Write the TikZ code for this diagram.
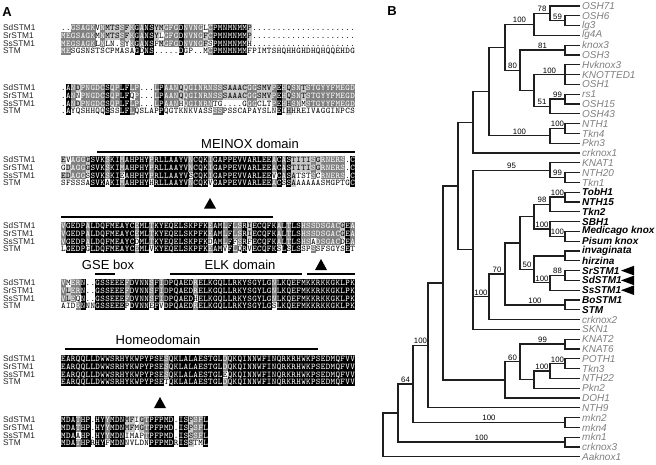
\documentclass[tikz,border=0pt]{standalone}
\usepackage{fontspec}
\setmainfont{Liberation Sans}
\usetikzlibrary{calc}
\definecolor{shadeD}{gray}{0.5}
\definecolor{shadeL}{gray}{0.78}

\ExplSyntaxOn
\tl_new:N \l_al_a_tl
\tl_new:N \l_al_b_tl
\tl_new:N \l_al_c_tl
\tl_new:N \l_al_d_tl
\tl_new:N \l_al_bg_tl
\tl_new:N \l_al_fg_tl
\tl_const:Nn \c_al_dot_tl { . }
\int_new:N \l_al_n_int
\cs_new_protected:Npn \al_draw:nnnnnnn #1#2#3#4#5#6#7
  {
    \path[fill=#1]({61+4.9*(#6-1)},{#7-3.85})rectangle++(5.1,7.9);
    \node[seqc,text=#2](a#4r#5c#6)at({61+4.9*(#6-0.5)},{#7+2.6}){#3};
  }
\cs_generate_variant:Nn \al_draw:nnnnnnn { VVV }
\cs_new_protected:Npn \al_cell:Nnnnn #1#2#3#4#5
  {
    \int_zero:N \l_al_n_int
    \tl_if_eq:NNT #1 \l_al_a_tl { \int_incr:N \l_al_n_int }
    \tl_if_eq:NNT #1 \l_al_b_tl { \int_incr:N \l_al_n_int }
    \tl_if_eq:NNT #1 \l_al_c_tl { \int_incr:N \l_al_n_int }
    \tl_if_eq:NNT #1 \l_al_d_tl { \int_incr:N \l_al_n_int }
    \tl_if_eq:NNT #1 \c_al_dot_tl { \int_zero:N \l_al_n_int }
    \int_case:nnF { \l_al_n_int }
      {
        { 4 } { \tl_set:Nn \l_al_bg_tl { black } \tl_set:Nn \l_al_fg_tl { white } }
        { 3 } { \tl_set:Nn \l_al_bg_tl { shadeD } \tl_set:Nn \l_al_fg_tl { white } }
        { 2 } { \tl_set:Nn \l_al_bg_tl { shadeL } \tl_set:Nn \l_al_fg_tl { black } }
      }
      { \tl_set:Nn \l_al_bg_tl { none } \tl_set:Nn \l_al_fg_tl { black } }
    \al_draw:VVVnnnn \l_al_bg_tl \l_al_fg_tl #1 {#2} {#3} {#4} {#5}
  }
\cs_new_protected:Npn \al_block:nnnnnn #1#2#3#4#5#6
  {
    \int_step_inline:nn { \tl_count:n {#3} }
      {
        \tl_set:Nx \l_al_a_tl { \tl_item:nn {#3} {##1} }
        \tl_set:Nx \l_al_b_tl { \tl_item:nn {#4} {##1} }
        \tl_set:Nx \l_al_c_tl { \tl_item:nn {#5} {##1} }
        \tl_set:Nx \l_al_d_tl { \tl_item:nn {#6} {##1} }
        \al_cell:Nnnnn \l_al_a_tl {#1} {1} {##1} {#2}
        \al_cell:Nnnnn \l_al_b_tl {#1} {2} {##1} {#2+7.7}
        \al_cell:Nnnnn \l_al_c_tl {#1} {3} {##1} {#2+15.4}
        \al_cell:Nnnnn \l_al_d_tl {#1} {4} {##1} {#2+23.1}
      }
  }
\NewDocumentCommand \alblock { mmmmmm } { \al_block:nnnnnn {#1}{#2}{#3}{#4}{#5}{#6} }
\ExplSyntaxOff

\newcommand\tn[4]{\coordinate (tmp) at ($(#3)!.5!(#4)$); \coordinate (#1) at (tmp -| X#2);}
\newcommand\tb[3]{\draw[br] (#2) -| (#1) |- (#3);}
\newcommand\bsl[4]{\path (#1) ++({(#2-#3)/2},-1.3) node[bs] (#1b) {#4};}

\begin{document}
\begin{tikzpicture}[x=1pt,y=-1pt,
  seqc/.style={font=\ttfamily\fontsize{8.7}{8.7}\selectfont,inner sep=0,anchor=base},
  lab/.style={anchor=west,font=\fontsize{8.3}{9}\selectfont,text=black!85,inner sep=0},
  leafg/.style={anchor=west,font=\fontsize{10}{11}\selectfont\itshape,text=black!50,inner sep=0},
  leafb/.style={anchor=west,font=\fontsize{10}{11}\selectfont\bfseries\itshape,text=black,inner sep=0},
  bs/.style={font=\fontsize{7.8}{8}\selectfont,inner sep=0,anchor=south},
  br/.style={line width=1.25pt,draw=black!88},
  dom/.style={font=\fontsize{13}{14}\selectfont,inner sep=0},
  dbar/.style={line width=2.6pt},
  panel/.style={font=\fontsize{13}{14}\selectfont\bfseries,inner sep=0}]
\useasboundingbox (0,0) rectangle (656,464);
\fill[white] (0,0) rectangle (656,464);

% ---------- panel A ----------
\node[panel] (pA) at (7,12) {A};
\foreach \b/\y in {1/28,2/88,3/160,4/226,5/283,6/359,7/420}{
  \foreach \n/\r in {SdSTM1/0,SrSTM1/1,SsSTM1/2,STM/3}{
    \node[lab] (lb\b\n) at (3,{\y+7.7*\r}) {\n};}}

\alblock{1}{28}
{..GSAGKVNMTSSFKGANSYMGFGDNVNGLCPMNMNMMP.....................}
{MEGSAGKMNMTSSFKGANSYLGFGDNVNGFCPMNMNMMP.....................}
{MEGSAGKLNLN.SYKGANSFMGFGDNVNGFSPMNMNMMH.....................}
{MESGSNSTSCPMASAGDNS.....DGP..MCPMNMNMMFPIMTSHQHHGHDHQHQQEHDG}
\alblock{2}{88}
{.ANDPNGDCSQPLFLP...LPAANQQGINRNSSSAAACGGSMVPEHQSNTSTGYYFMEGD}
{.ANNPNGDCSQPLFQP...LPAANQQGINRNSSSAAACGGSMVPEHQSNTSTGYYFMEGD}
{.ANDPNGDCSQPLFLP...LPAANHQGINRNTG....GGGCLTPEHHSNMSTGYYFMEGD}
{.AYQSHHQQSSSLFLQSLAPPQGTKNKVASSSSPSSCAPAYSLNEIHHREIVAGGINPCS}
\alblock{3}{160}
{EVAGGGSVKSKIMAHPHYPRLLAAYVNCQKIGAPPEVVARLEEACASTITISGRNERS.C}
{GDAGGGSVKSKIMAHPHYPRLLAAYVNCQKIGAPPEVVARLEEACASTITISGRNERS.C}
{EDAGGSSVKSKIEAHPHYPRLLAAYVSCQKIGAPPEVVARLEEVCASATSTSCRNERS.C}
{SFSSSASVKAKIMAHPHYHRLLAAYVNCQKVGAPPEVVARLEEACSSAAAAAASMGPTGC}
\alblock{4}{226}
{VGEDPALDQFMEAYCEMLTKYEQELSKPFKEAMLFLSRIECQFKALTLSHSSDSGACGEA}
{VGEDPALDQFMEAYCEMLTKYEQELSKPFKEAMLFLSRIECQFKALTLSHSSDSGACGEA}
{VGEDPALDQFMEAYCDMLTKYEQELSKPFKDAMLFFSRFECQFKALTLSHSADSGACDEA}
{LGEDPGLDQFMEAYCEMLVKYEQELSKPFKEAMVFLQRVECQFKSLSLSSPSSFSGYSET}
\alblock{5}{283}
{VMERN..GSSEEEFDVNNSFIDPQAEDRELKGQLLRKYSGYLGNLKQEFMKKRKKGKLPK}
{VLERN..GSSEEEFDVNNSFIDPQAEDRELKGQLLRKYSGYLGNLKQEFMKKRKKGKLPK}
{VLEQN..GSSEEEFDVNNSFIDPQAEDHELKGQLLRKYSGYLGNLKQEFMKKRKKGKLPK}
{AIDRNNNGSSEEEPDVNNEFVDPQAEDRELKGQLLRKYSGYLGSLKQEFMKKRKKGKLPK}
\alblock{6}{359}
{EARQQLLDWWSRHYKWPYPSESQKLALAESTGLDQKQINNWFINQRKRHWKPSEDMQFVV}
{EARQQLLDWWSRHYKWPYPSESQKLALAESTGLDQKQINNWFINQRKRHWKPSEDMQFVV}
{EARQQLLDWWSRHYKWPYPSESQKLALAESTGLEQKQINNWFINQRKRHWKPSEDMQFVV}
{EARQQLLDWWSRHYKWPYPSETQKLALAESTGLDQKQINNWFINQRKRHWKPSEDMQFVV}
\alblock{7}{420}
{MDATHP.HYYMDNMFIGTPFPMD.ISPSFL}
{MDATHP.HYYMDNMFMGTPFPMD.ISPSFL}
{MDAAHP.HYYMDNIMAPTPFPMD.ISSSFL}
{MDATHPRHYFMDNNVLDNPFPMDRISSTML}

% domains
\node[dom] (meinox) at (250,144) {MEINOX domain};
\draw[dbar] (97,152) -- (355,152);
\draw[dbar] (61,217) -- (273,217);
\fill (210,198) -- (216,208.5) -- (204,208.5) -- cycle;
\node[dom] (gse) at (108,265) {GSE box};
\node[dom] (elk) at (240,265) {ELK domain};
\draw[dbar] (95,274) -- (115,274);
\draw[dbar] (170,274) -- (302,274);
\draw[dbar] (307,274) -- (355,274);
\fill (321,259) -- (327,270) -- (315,270) -- cycle;
\node[dom] (homeo) at (158,340) {Homeodomain};
\draw[dbar] (65,349) -- (318,349);
\fill (160,397) -- (166,408) -- (154,408) -- cycle;

% ---------- panel B ----------
\node[panel] (pB) at (392,11) {B};
\foreach \v in {383,398,413,428,443,458,473,489,505,520,534,550,565}{\coordinate (X\v) at (\v,0);}
\foreach \t/\s [count=\i from 0] in {OSH71/g,OSH6/g,lg3/g,lg4A/g,knox3/g,OSH3/g,Hvknox3/g,KNOTTED1/g,OSH1/g,rs1/g,OSH15/g,OSH43/g,NTH1/g,Tkn4/g,Pkn3/g,crknox1/g,KNAT1/g,NTH20/g,Tkn1/g,TobH1/b,NTH15/b,Tkn2/b,SBH1/b,Medicago knox/b,Pisum knox/b,invaginata/b,hirzina/b,SrSTM1/b,SdSTM1/b,SsSTM1/b,BoSTM1/b,STM/b,crknox2/g,SKN1/g,KNAT2/g,KNAT6/g,POTH1/g,Tkn3/g,NTH22/g,Pkn2/g,DOH1/g,NTH9/g,mkn2/g,mkn4/g,mkn1/g,crknox3/g,Aaknox1/g}{
  \coordinate (l\i) at (580,{6+9.8*\i});
  \node[leaf\s] (t\i) at (582,{6+9.8*\i}) {\t};}
\foreach \i in {27,28,29}{\fill (621,{6+9.8*\i}) -- ++(13,-4.8) -- ++(0,9.6) -- cycle;}

\tn{n59}{565}{l1}{l2} \tb{n59}{l1}{l2}
\tn{n78}{550}{l0}{n59} \tb{n78}{l0}{n59}
\tn{n100a}{534}{n78}{l3} \tb{n100a}{n78}{l3}
\tn{n81}{565}{l4}{l5} \tb{n81}{l4}{l5}
\tn{n100b}{565}{l6}{l8} \tb{n100b}{l6}{l8} \draw[br] (n100b) -- (l7);
\tn{n99a}{565}{l9}{l10} \tb{n99a}{l9}{l10}
\tn{n51}{550}{n99a}{l11} \tb{n51}{n99a}{l11}
\tn{nX}{534}{n100b}{n51} \tb{nX}{n100b}{n51}
\tn{nY}{520}{n81}{nX} \tb{nY}{n81}{nX}
\tn{nZ}{505}{n100a}{nY} \tb{nZ}{n100a}{nY}
\tn{n100c}{565}{l12}{l13} \tb{n100c}{l12}{l13}
\tn{n100d}{550}{n100c}{l14} \tb{n100d}{n100c}{l14}
\tn{nW}{489}{nZ}{n100d} \tb{nW}{nZ}{n100d}
\tn{nV}{473}{nW}{l15} \tb{nV}{nW}{l15}
\tn{n99b}{565}{l17}{l18} \tb{n99b}{l17}{l18}
\tn{n95}{550}{l16}{n99b} \tb{n95}{l16}{n99b}
\tn{n100e}{565}{l19}{l20} \tb{n100e}{l19}{l20}
\tn{n98}{550}{n100e}{l21} \tb{n98}{n100e}{l21}
\tn{n100f}{565}{l23}{l24} \tb{n100f}{l23}{l24}
\tn{n100g}{550}{l22}{n100f} \tb{n100g}{l22}{n100f}
\tn{nS}{534}{n98}{n100g} \tb{nS}{n98}{n100g}
\tn{ninv}{565}{l25}{l26} \tb{ninv}{l25}{l26}
\tn{n88}{565}{l27}{l28} \tb{n88}{l27}{l28}
\tn{n100h}{550}{n88}{l29} \tb{n100h}{n88}{l29}
\tn{n50}{534}{ninv}{n100h} \tb{n50}{ninv}{n100h}
\tn{nR}{520}{nS}{n50} \tb{nR}{nS}{n50}
\tn{n100i}{565}{l30}{l31} \tb{n100i}{l30}{l31}
\tn{n70}{505}{nR}{n100i} \tb{n70}{nR}{n100i}
\tn{n100j}{489}{n70}{l32} \tb{n100j}{n70}{l32}
\tn{nT}{473}{n95}{l33} \tb{nT}{n95}{l33} \draw[br] (nT |- n100j) -- (n100j);
\tn{nU}{458}{nV}{nT} \tb{nU}{nV}{nT}
\tn{n99c}{565}{l34}{l35} \tb{n99c}{l34}{l35}
\tn{n100k}{565}{l36}{l37} \tb{n100k}{l36}{l37}
\tn{n100l}{550}{n100k}{l38} \tb{n100l}{n100k}{l38}
\tn{nQ}{534}{n100l}{l39} \tb{nQ}{n100l}{l39}
\tn{nP}{520}{n99c}{nQ} \tb{nP}{n99c}{nQ}
\tn{nO}{505}{nP}{l40} \tb{nO}{nP}{l40}
\tn{nN}{443}{nU}{nO} \tb{nN}{nU}{nO}
\tn{n100m}{428}{nN}{l41} \tb{n100m}{nN}{l41}
\tn{n100n}{565}{l42}{l43} \tb{n100n}{l42}{l43}
\tn{n64}{413}{n100m}{n100n} \tb{n64}{n100m}{n100n}
\tn{n100o}{565}{l44}{l45} \tb{n100o}{l44}{l45}
\tn{nM}{398}{n64}{n100o} \tb{nM}{n64}{n100o}
\tn{nRoot}{383}{nM}{l46} \tb{nRoot}{nM}{l46}

\bsl{n59}{550}{565}{59}
\bsl{n78}{534}{550}{78}
\bsl{n100a}{505}{534}{100}
\bsl{n81}{520}{565}{81}
\bsl{n100b}{534}{565}{100}
\bsl{n99a}{550}{565}{99}
\bsl{n51}{534}{550}{51}
\bsl{nY}{505}{520}{80}
\bsl{n100c}{550}{565}{100}
\bsl{n100d}{489}{550}{100}
\bsl{n99b}{550}{565}{99}
\bsl{n95}{473}{550}{95}
\bsl{n100e}{550}{565}{100}
\bsl{n98}{534}{550}{98}
\bsl{n100f}{550}{565}{100}
\bsl{n100g}{534}{550}{100}
\bsl{n88}{550}{565}{88}
\bsl{n100h}{534}{550}{100}
\bsl{n50}{520}{534}{50}
\bsl{n100i}{505}{565}{100}
\bsl{n70}{489}{505}{70}
\bsl{n100j}{473}{489}{100}
\bsl{n99c}{520}{565}{99}
\bsl{n100k}{550}{565}{100}
\bsl{n100l}{534}{550}{100}
\bsl{nP}{505}{520}{60}
\bsl{n100m}{413}{428}{100}
\bsl{n100n}{413}{565}{100}
\bsl{n64}{398}{413}{64}
\bsl{n100o}{398}{565}{100}
\end{tikzpicture}
\end{document}
